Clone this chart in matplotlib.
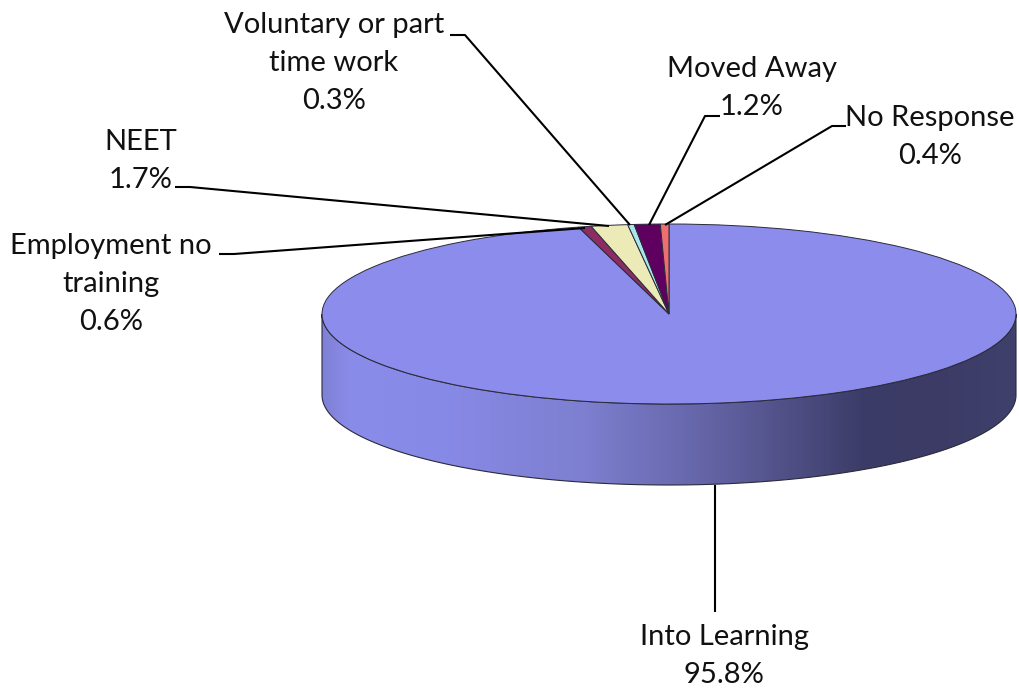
#!/usr/bin/env python3
"""3D-look pie of leaver destinations, drawn on a squashed matplotlib pie."""

import matplotlib
matplotlib.use("Agg")
import matplotlib.pyplot as plt
import numpy as np
from matplotlib.colors import LinearSegmentedColormap
from matplotlib.patches import Polygon
from matplotlib.transforms import Affine2D

# clockwise from 12 o'clock
categories = ["Into Learning", "Employment no\ntraining", "NEET",
              "Voluntary or part\ntime work", "Moved Away", "No Response"]
values = [95.8, 0.6, 1.7, 0.3, 1.2, 0.4]
colors = ["#8C8CED", "#8B2D62", "#ECEBB8", "#A9E6EC", "#5F0060", "#EE6F70"]

# side wall shading, left to right
wall_stops = [0.0, 0.04, 0.18, 0.38, 0.58, 0.78, 0.88, 1.0]
wall_colors = ["#7F81D6", "#8A8CEA", "#8789E6", "#7D7FCF", "#6060A0",
               "#3C3C68", "#3B3B66", "#40406C"]

# pie geometry in pixels
W, H = 1019, 689
CX, CY, RX, RY, DEPTH = 669, 314, 347, 90, 81

# label centre and leader line for each category, in pixels
label_pos = [(724, 656), (111, 284), (141, 161), (334, 63), (752, 88), (930, 137)]
leaders = [
    [(715, 485), (715, 612)],
    [(219, 254), (234, 254), (585, 228)],
    [(175, 187), (190, 187), (609, 226)],
    [(450, 35), (465, 35), (630, 225)],
    [(720, 116), (705, 116), (649, 225)],
    [(846, 126), (832, 126), (665, 225)],
]

plt.rcParams["font.family"] = ["Lato", "DejaVu Sans"]

fig = plt.figure(figsize=(W / 100, H / 100), dpi=100)
ax = fig.add_axes([0, 0, 1, 1])

ax.pie(values, colors=colors, startangle=90, counterclock=False, radius=1,
       wedgeprops=dict(edgecolor="#2A2A3A", linewidth=0.7, zorder=3))

# side wall: gradient image clipped to the lower rim band
cmap = LinearSegmentedColormap.from_list("wall", list(zip(wall_stops, wall_colors)))
depth = DEPTH / RY
t = np.linspace(np.pi, 2 * np.pi, 300)
rim = np.column_stack([np.cos(t), np.sin(t)])
band = np.vstack([rim, (rim + [0, -depth])[::-1]])
grad = np.linspace(0, 1, 512)[None, :]
img = ax.imshow(grad, cmap=cmap, extent=(-1, 1, -1 - depth, 0), aspect="auto", zorder=1)
outline = Polygon(band, closed=True, facecolor="none", edgecolor="#2A2A3A",
                  linewidth=0.8, zorder=2)
ax.add_patch(outline)
img.set_clip_path(outline)

ax.set_aspect("auto")
ax.set_xlim(-CX / RX, (W - CX) / RX)
ax.set_ylim((CY - H) / RY, CY / RY)
ax.axis("off")

# pixel coordinates, y down
px = Affine2D().scale(1, -1).translate(0, H) + Affine2D().scale(fig.dpi / 100)

for cat, val, pos, line in zip(categories, values, label_pos, leaders):
    ax.text(pos[0], pos[1], f"{cat}\n{val}%", transform=px, ha="center", va="center",
            ma="center", fontsize=21, color="#111111", linespacing=1.56, zorder=6)
    xs, ys = zip(*line)
    ax.plot(xs, ys, transform=px, color="black", lw=1.5, zorder=5, solid_capstyle="butt")

fig.savefig("out.png", dpi=100)
